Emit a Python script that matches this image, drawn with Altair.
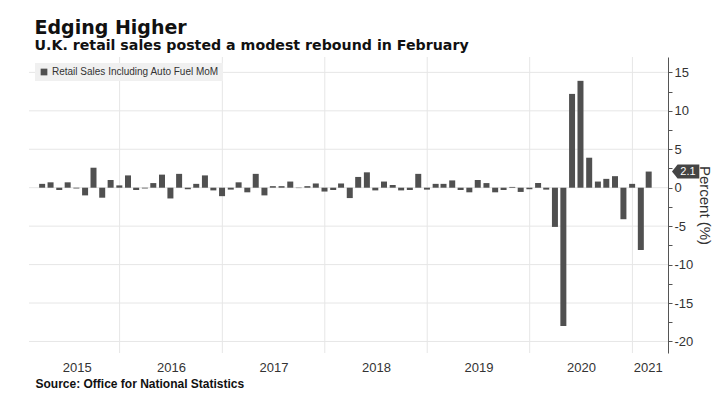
import altair as alt
import pandas as pd

# ---- data (UK retail sales incl. auto fuel, MoM %) ----
series_name = "Retail Sales Including Auto Fuel MoM"
first_month = "2015-03-01"
values_2015 = [0.5, 0.7, -0.3, 0.7, -0.1, -1.0, 2.6, -1.3, 1.0, 0.3]          # Mar-Dec
values_2016 = [1.6, -0.3, -0.1, 0.6, 1.7, -1.4, 1.8, -0.2, 0.5, 1.6, -0.35, -1.1]
values_2017 = [-0.25, 0.7, -0.6, 1.8, -1.0, 0.2, 0.2, 0.8, -0.05, 0.2, 0.55, -0.5]
values_2018 = [-0.3, 0.55, -1.35, 1.4, 2.0, -0.35, 0.8, 0.35, -0.35, -0.3, 1.8, -0.25]
values_2019 = [0.5, 0.5, 0.95, -0.3, -0.6, 1.0, 0.6, -0.6, -0.3, 0.1, -0.55, -0.2]
values_2020 = [0.6, -0.25, -5.1, -18.0, 12.2, 13.9, 3.9, 0.8, 1.15, 1.5, -4.1, 0.5]
values_2021 = [-8.1, 2.1]                                                     # Jan-Feb
years = [2015, 2016, 2017, 2018, 2019, 2020, 2021]
y_ticks = [-20, -17.5, -15, -12.5, -10, -7.5, -5, -2.5, 0, 2.5, 5, 7.5, 10, 12.5, 15]
y_grid = [-20, -15, -10, -5, 0, 5, 10, 15]
x_domain = ["2015-03-02", "2021-04-20"]
y_domain = [-21.5, 17]

values = values_2015 + values_2016 + values_2017 + values_2018 + values_2019 + values_2020 + values_2021
month_ends = pd.date_range(first_month, periods=len(values), freq="MS") + pd.offsets.MonthEnd(0)
df = pd.DataFrame({
    "date": [d.strftime("%Y-%m-%d") for d in month_ends],
    "value": values,
    "series": series_name,
})
last_df = df.tail(1)


def ms(s):
    return int(pd.Timestamp(s).value // 10**6)


d0, d1 = ms(x_domain[0]), ms(x_domain[1])
year_starts = [ms(f"{y}-01-01") for y in years]
label_pos = []
for y in years:
    a = max(ms(f"{y}-01-01"), d0)
    b = min(ms(f"{y + 1}-01-01"), d1)
    label_pos.append((a + b) / 2)

grid_df = pd.DataFrame({"value": y_grid})
vgrid_df = pd.DataFrame({"date": year_starts[1:]})

W, H = 639, 296
FONT = "Liberation Sans"
TFONT = "DejaVu Sans"
xscale = alt.Scale(type="utc", domain=[d0, d1])
yscale = alt.Scale(domain=y_domain, nice=False)

x_axis = alt.Axis(
    values=label_pos,
    labelExpr="utcFormat(datum.value, '%Y')",
    grid=False, ticks=False, domain=False,
    labelFlush=False, labelOverlap=False,
    labelPadding=8, labelFontSize=13, labelColor="#333", labelFont=FONT,
    title="Source: Office for National Statistics",
    titleX=6, titleY=30, titleAlign="left", titleBaseline="middle", titleAngle=0,
    titleFontSize=12, titleFontWeight="bold", titleColor="#111", titleFont=FONT,
)
y_axis = alt.Axis(
    orient="right",
    values=y_ticks,
    labelExpr="datum.value % 5 == 0 ? toString(datum.value) : ''",
    grid=False,
    domainColor="#555", tickColor="#555", tickSize=4,
    labelFontSize=13, labelColor="#333", labelFont=FONT, labelPadding=2,
    title="Percent (%)", titleFontSize=15, titleFontWeight="normal",
    titleColor="#333", titleFont=FONT, titlePadding=4,
)
X = alt.X("date:T", scale=xscale, axis=x_axis, title="Source: Office for National Statistics")
Y = alt.Y("value:Q", scale=yscale, axis=y_axis, title="Percent (%)")

hgrid = alt.Chart(grid_df).mark_rule(color="#e6e6e6", strokeWidth=1).encode(y=Y)
vgrid = alt.Chart(vgrid_df).mark_rule(color="#e6e6e6", strokeWidth=1).encode(x=X)

bars = alt.Chart(df).mark_bar(size=6).encode(
    x=X,
    y=Y,
    color=alt.Color(
        "series:N",
        scale=alt.Scale(range=["#505050"]),
        legend=alt.Legend(
            orient="top-left", offset=6, title=None,
            fillColor="#f0f0f0", padding=4, symbolType="square", symbolSize=45,
            symbolStrokeWidth=0, labelFontSize=10, labelColor="#333", labelFont=FONT,
            labelOffset=3, labelLimit=400,
        ),
    ),
)

tag = alt.Chart(last_df).mark_point(
    shape="M0,0L0.4,-0.5L1.95,-0.5L1.95,0.5L0.4,0.5Z",
    size=784, filled=True, color="#444", opacity=1,
).encode(x=alt.value(W + 4), y=Y)

tag_text = alt.Chart(last_df).mark_text(
    color="white", fontSize=11, font=FONT, align="center", baseline="middle"
).encode(
    x=alt.value(W + 4 + 16),
    y=Y,
    text=alt.Text("value:Q", format=".1f"),
)

chart = alt.layer(hgrid, vgrid, bars, tag, tag_text).properties(
    width=W,
    height=H,
    autosize=alt.AutoSizeParams(type="none"),
    padding={"left": 29, "top": 57, "right": 55, "bottom": 40},
    background="white",
    title=alt.TitleParams(
        text="Edging Higher",
        subtitle="U.K. retail sales posted a modest rebound in February",
        anchor="start", dx=6, offset=3,
        font=TFONT, fontSize=19, fontWeight="bold", color="#111",
        subtitleFont=TFONT, subtitleFontSize=14.2, subtitleFontWeight="bold",
        subtitleColor="#111", subtitlePadding=1,
    ),
).configure_view(stroke=None)

chart.save("out.html", embed_options={"renderer": "svg", "actions": False})
